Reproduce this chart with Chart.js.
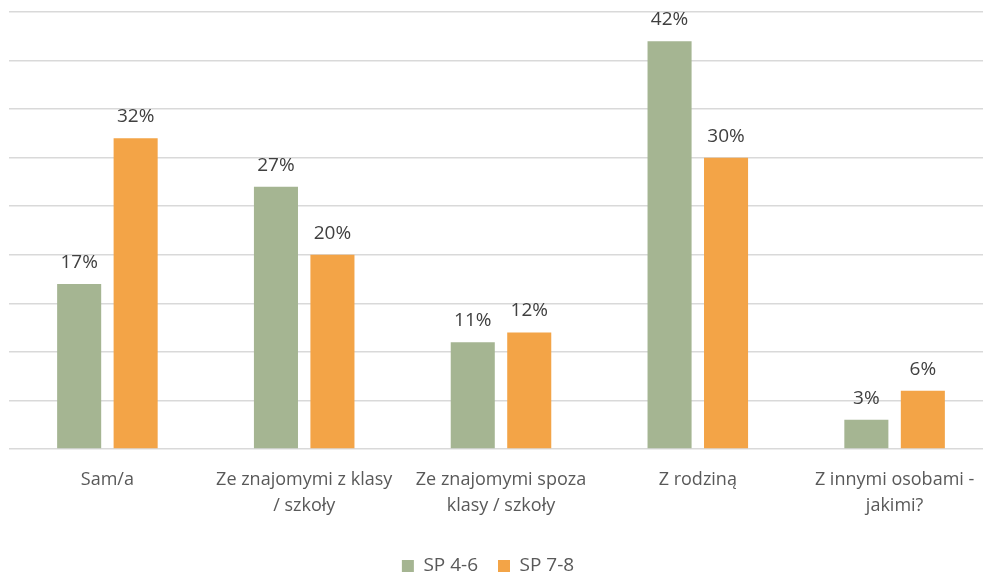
<!DOCTYPE html>
<html>
<head>
<meta charset="utf-8">
<script src="https://cdn.jsdelivr.net/npm/chart.js@4.4.0/dist/chart.umd.min.js"></script>
<style>
  html, body { margin: 0; padding: 0; background: #fff; overflow: hidden; }
  #wrap { width: 983px; height: 574px; overflow: hidden; }
</style>
</head>
<body>
<div id="wrap"><canvas id="bar-chart" width="993" height="574"></canvas></div>
<script>
// dane
var categories = [
    "Sam/a",
    ["Ze znajomymi z klasy", "/ szkoły"],
    ["Ze znajomymi spoza", "klasy / szkoły"],
    "Z rodziną",
    ["Z innymi osobami -", "jakimi?"]
];
var seriesNames = ["SP 4-6", "SP 7-8"];
var sp46 = [17, 27, 11, 42, 3];
var sp78 = [32, 20, 12, 30, 6];
var colors = ["#a5b592", "#f3a447"];

// etykiety nad słupkami + przesunięcie legendy
var valueLabels = {
    id: 'valueLabels',
    afterLayout: function (chart) {
        var lg = chart.legend;
        // wykres jest przycięty z prawej, legenda ma zostać na środku okna
        lg.left -= 13;
        lg.right -= 13;
        var dy = 561 - (lg.top + lg.height / 2);
        lg.top += dy;
        lg.bottom += dy;
    },
    afterDatasetsDraw: function (chart) {
        var ctx = chart.ctx;
        ctx.save();
        ctx.font = '19px "Open Sans"';
        ctx.fillStyle = '#404040';
        ctx.textAlign = 'center';
        ctx.textBaseline = 'alphabetic';
        chart.data.datasets.forEach(function (ds, i) {
            chart.getDatasetMeta(i).data.forEach(function (bar, j) {
                ctx.fillText(ds.data[j] + '%', bar.x, bar.y - 16);
            });
        });
        ctx.restore();
    }
};

var ctx = document.getElementById('bar-chart').getContext('2d');
var chart = new Chart(ctx, {
    type: 'bar',
    data: {
        labels: categories,
        datasets: [
            { label: seriesNames[0], data: sp46, backgroundColor: colors[0] },
            { label: seriesNames[1], data: sp78, backgroundColor: colors[1] }
        ]
    },
    options: {
        responsive: false,
        animation: false,
        categoryPercentage: 0.574,
        barPercentage: 0.78,
        layout: { padding: { left: 9, right: 0, top: 12, bottom: 0 } },
        plugins: {
            legend: {
                position: 'bottom',
                labels: {
                    boxWidth: 12,
                    boxHeight: 12,
                    padding: 20,
                    color: '#595959',
                    font: { family: '"Open Sans"', size: 19 }
                }
            },
            tooltip: { enabled: false }
        },
        scales: {
            x: {
                grid: { display: false },
                border: { display: false },
                afterFit: function (scale) { scale.height = 76; },
                ticks: {
                    color: '#595959',
                    maxRotation: 0,
                    autoSkip: false,
                    padding: 10,
                    font: { family: '"Open Sans"', size: 18, lineHeight: 1.44 }
                }
            },
            y: {
                min: 0,
                max: 45,
                ticks: { display: false, stepSize: 5 },
                border: { display: false },
                grid: { color: '#d9d9d9', lineWidth: 1.5, drawTicks: false }
            }
        }
    },
    plugins: [valueLabels]
});
</script>
</body>
</html>
